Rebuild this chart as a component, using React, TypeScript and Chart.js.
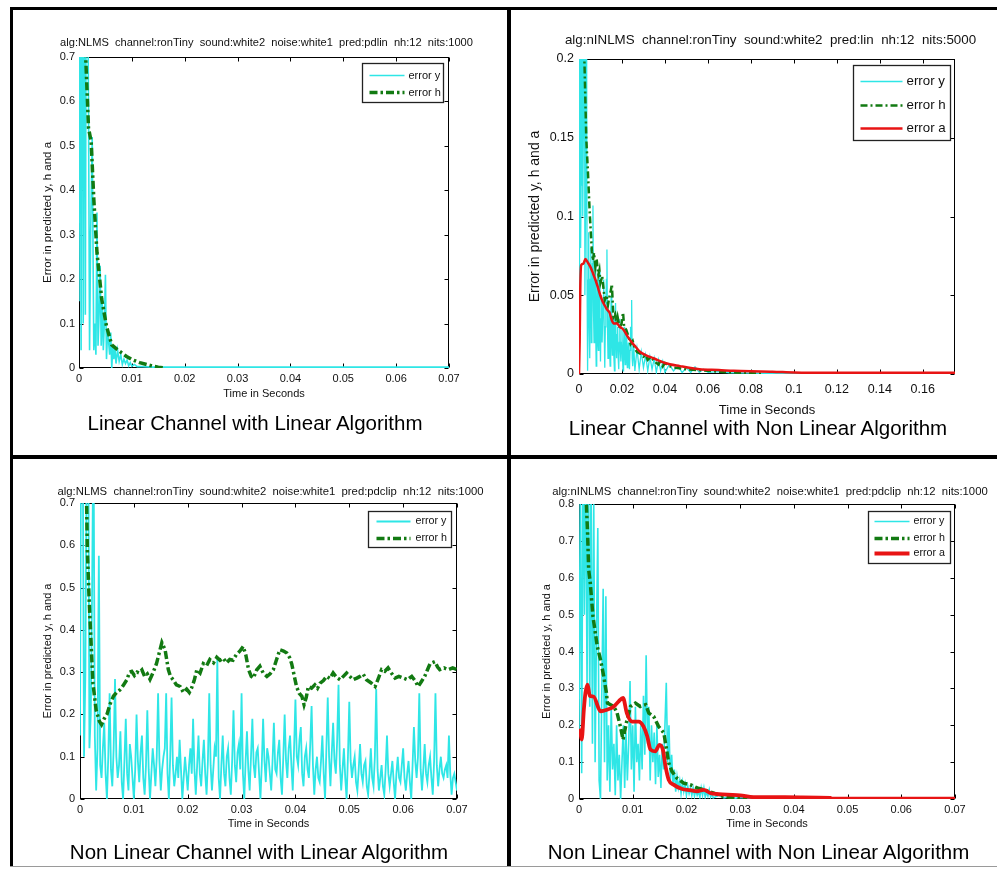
import React, { useEffect, useRef } from "react";
import { Chart, registerables } from "chart.js";

Chart.register(...registerables);
Chart.defaults.font.family = "'Liberation Sans', Arial, Helvetica, sans-serif";
Chart.defaults.color = "#111";

// ---------------- shared text ----------------
const X_LABEL = "Time in Seconds";
const Y_LABEL = "Error in predicted y, h and a";
const LABEL_Y = "error y";
const LABEL_H = "error h";
const LABEL_A = "error a";

// ---------------- Panel 1: Linear channel, linear algorithm ----------------
const p1Title = "alg:NLMS  channel:ronTiny  sound:white2  noise:white1  pred:pdlin  nh:12  nits:1000";
const p1Caption = "Linear Channel with Linear Algorithm";
const p1XTicks = [0, 0.01, 0.02, 0.03, 0.04, 0.05, 0.06, 0.07];
const p1YTicks = [0, 0.1, 0.2, 0.3, 0.4, 0.5, 0.6, 0.7];
const p1ErrYTime = [0, 0.0002, 0.0004, 0.0006, 0.0008, 0.001, 0.0012, 0.0014, 0.0016, 0.0018, 0.002, 0.0022, 0.0025, 0.0028, 0.003, 0.0032, 0.0034, 0.0036, 0.0038, 0.004, 0.0042, 0.0044, 0.0046, 0.0048, 0.005, 0.0052, 0.0054, 0.0056, 0.0058, 0.006, 0.0062, 0.0064, 0.0066, 0.0068, 0.007, 0.0073, 0.0076, 0.0079, 0.0082, 0.0085, 0.0088, 0.0091, 0.0094, 0.0097, 0.01, 0.0105, 0.011, 0.012, 0.014, 0.02, 0.07];
const p1ErrYVal = [0.15, 1.2, 0.04, 1.5, 0.1, 1.3, 0.12, 1.1, 0.9, 0.6, 0.04, 0.3, 0.52, 0.04, 0.1, 0.03, 0.35, 0.05, 0.12, 0.23, 0.05, 0.15, 0.04, 0.1, 0.21, 0.02, 0.08, 0.06, 0.03, 0.08, 0.0, 0.05, 0.02, 0.045, 0.01, 0.04, 0.015, 0.03, 0.008, 0.02, 0.01, 0.018, 0.005, 0.012, 0.004, 0.008, 0.003, 0.003, 0.002, 0.002, 0.002];
const p1ErrHTime = [0, 0.0008, 0.0012, 0.0016, 0.0018, 0.0023, 0.0028, 0.0034, 0.0043, 0.0052, 0.0062, 0.0072, 0.0081, 0.009, 0.01, 0.0115, 0.0129, 0.014, 0.015, 0.016];
const p1ErrHVal = [1.2, 0.9, 0.72, 0.6, 0.54, 0.51, 0.38, 0.26, 0.155, 0.094, 0.052, 0.042, 0.034, 0.026, 0.019, 0.012, 0.0075, 0.004, 0.002, 0.0005];

// ---------------- Panel 2: Linear channel, non linear algorithm ----------------
const p2Title = "alg:nINLMS  channel:ronTiny  sound:white2  pred:lin  nh:12  nits:5000";
const p2Caption = "Linear Channel with Non Linear Algorithm";
const p2XTicks = [0, 0.02, 0.04, 0.06, 0.08, 0.1, 0.12, 0.14, 0.16];
const p2YTicks = [0, 0.05, 0.1, 0.15, 0.2];
const p2ErrYTime = [
  0, 0.00025, 0.0005, 0.00075, 0.001, 0.00125, 0.0015, 0.00175, 0.002, 0.00225, 0.0025, 0.00275, 0.003, 0.00325, 0.0035, 0.00375, 0.004, 0.00425, 0.0045, 0.00475,
  0.005, 0.00525, 0.0055, 0.00575, 0.006, 0.00625, 0.0065, 0.00675, 0.007, 0.00725, 0.0075, 0.00775, 0.008, 0.00825, 0.0085, 0.00875, 0.009, 0.00925, 0.0095, 0.00975,
  0.01, 0.01025, 0.0105, 0.01075, 0.011, 0.01125, 0.0115, 0.01175, 0.012, 0.01225, 0.0125, 0.01275, 0.013, 0.01325, 0.0135, 0.01375, 0.014, 0.01425, 0.0145, 0.01475,
  0.015, 0.01525, 0.0155, 0.01575, 0.016, 0.01625, 0.0165, 0.01675, 0.017, 0.01725, 0.0175, 0.01775, 0.018, 0.01825, 0.0185, 0.01875, 0.019, 0.01925, 0.0195, 0.01975,
  0.02, 0.02025, 0.0205, 0.02075, 0.021, 0.02125, 0.0215, 0.02175, 0.022, 0.02225, 0.0225, 0.02275, 0.023, 0.02325, 0.0235, 0.02375, 0.024, 0.02425, 0.0245, 0.02475,
  0.025,
  0.0255, 0.026, 0.027, 0.028, 0.029, 0.03, 0.031, 0.032, 0.033, 0.034, 0.035, 0.036, 0.037, 0.038, 0.039, 0.04, 0.042, 0.044, 0.046, 0.048, 0.05, 0.052, 0.054, 0.056, 0.058, 0.06, 0.065, 0.07, 0.08, 0.09, 0.1, 0.175,
];
const p2ErrYVal = [
  0.02, 0.25, 0.3, 0.08, 0.12, 0.4, 0.35, 0.1, 0.15, 0.3, 0.3, 0.05, 0.1, 0.22, 0.25, 0.06, 0.002, 0.05, 0.09, 0.03,
  0.01, 0.06, 0.08, 0.02, 0.03, 0.07, 0.107, 0.04, 0.02, 0.055, 0.07, 0.03, 0.005, 0.04, 0.06, 0.02, 0.015, 0.05, 0.065, 0.03,
  0.008, 0.035, 0.05, 0.02, 0.02, 0.045, 0.06, 0.025, 0.004, 0.03, 0.045, 0.06, 0.079, 0.03, 0.01, 0.03, 0.04, 0.015, 0.005, 0.035,
  0.05, 0.02, 0.012, 0.03, 0.035, 0.01, 0.002, 0.025, 0.045, 0.02, 0.01, 0.025, 0.03, 0.01, 0.003, 0.02, 0.035, 0.015, 0.008, 0.02,
  0.028, 0.01, 0.002, 0.018, 0.03, 0.012, 0.006, 0.02, 0.025, 0.01, 0.004, 0.015, 0.02, 0.008, 0.003, 0.015, 0.03, 0.02, 0.047, 0.01,
  0.005,
  0.018, 0.002, 0.016, 0.003, 0.014, 0.004, 0.012, 0.002, 0.011, 0.003, 0.01, 0.001, 0.009, 0.002, 0.008, 0.001, 0.006, 0.002, 0.005, 0.001, 0.004, 0.001, 0.0045, 0.001, 0.003, 0.001, 0.0015, 0.0008, 0.0005, 0.0003, 0.0002, 0.0002,
];
const p2ErrHTime = [0.001, 0.002, 0.0025, 0.0034, 0.0042, 0.005, 0.006, 0.0065, 0.007, 0.0076, 0.0082, 0.009, 0.0095, 0.01, 0.0108, 0.0115, 0.012, 0.0128, 0.0135, 0.014, 0.0147, 0.0153, 0.016, 0.0168, 0.0175, 0.018, 0.019, 0.0198, 0.0205, 0.021, 0.022, 0.023, 0.024, 0.025, 0.026, 0.027, 0.0285, 0.03, 0.031, 0.032, 0.0335, 0.035, 0.037, 0.038, 0.039, 0.04, 0.042, 0.045, 0.05, 0.055, 0.06, 0.065, 0.07, 0.075, 0.08, 0.085];
const p2ErrHVal = [0.3, 0.23, 0.2, 0.149, 0.127, 0.102, 0.078, 0.072, 0.077, 0.068, 0.073, 0.063, 0.066, 0.058, 0.062, 0.053, 0.047, 0.05, 0.044, 0.048, 0.052, 0.057, 0.036, 0.038, 0.032, 0.036, 0.029, 0.032, 0.039, 0.03, 0.028, 0.024, 0.019, 0.021, 0.016, 0.014, 0.013, 0.011, 0.012, 0.009, 0.011, 0.008, 0.006, 0.009, 0.005, 0.007, 0.005, 0.004, 0.003, 0.0025, 0.002, 0.0015, 0.001, 0.0008, 0.0005, 0.0002];
const p2ErrATime = [0, 0.0003, 0.0006, 0.001, 0.002, 0.003, 0.004, 0.0053, 0.0065, 0.0076, 0.0088, 0.0099, 0.011, 0.0122, 0.013, 0.0142, 0.0153, 0.0165, 0.0177, 0.019, 0.0208, 0.0225, 0.0246, 0.0265, 0.0285, 0.031, 0.0347, 0.04, 0.047, 0.056, 0.065, 0.072, 0.08, 0.09, 0.1, 0.12, 0.15, 0.175];
const p2ErrAVal = [0, 0.02, 0.055, 0.069, 0.07, 0.073, 0.071, 0.068, 0.064, 0.06, 0.055, 0.05, 0.046, 0.043, 0.041, 0.039, 0.034, 0.032, 0.032, 0.03, 0.028, 0.024, 0.02, 0.017, 0.014, 0.012, 0.01, 0.007, 0.005, 0.003, 0.0025, 0.002, 0.0017, 0.0015, 0.001, 0.0008, 0.0008, 0.0008];

// ---------------- Panel 3: Non linear channel, linear algorithm ----------------
const p3Title = "alg:NLMS  channel:ronTiny  sound:white2  noise:white1  pred:pdclip  nh:12  nits:1000";
const p3Caption = "Non Linear Channel with Linear Algorithm";
const p3XTicks = [0, 0.01, 0.02, 0.03, 0.04, 0.05, 0.06, 0.07];
const p3YTicks = [0, 0.1, 0.2, 0.3, 0.4, 0.5, 0.6, 0.7];
const p3ErrYTime = [
  0, 0.00025, 0.0005, 0.00075, 0.001, 0.00125, 0.0015, 0.00175, 0.002, 0.00225, 0.0025, 0.00275, 0.003, 0.00325, 0.0035, 0.00375, 0.004, 0.00425, 0.0045, 0.00475,
  0.005, 0.00525, 0.0055, 0.00575, 0.006, 0.00625, 0.0065, 0.00675, 0.007, 0.00725, 0.0075, 0.00775, 0.008, 0.00825, 0.0085, 0.00875, 0.009, 0.00925, 0.0095, 0.00975,
  0.01, 0.01025, 0.0105, 0.01075, 0.011, 0.01125, 0.0115, 0.01175, 0.012, 0.01225, 0.0125, 0.01275, 0.013, 0.01325, 0.0135, 0.01375, 0.014, 0.01425, 0.0145, 0.01475,
  0.015, 0.01525, 0.0155, 0.01575, 0.016, 0.01625, 0.0165, 0.01675, 0.017, 0.01725, 0.0175, 0.01775, 0.018, 0.01825, 0.0185, 0.01875, 0.019, 0.01925, 0.0195, 0.01975,
  0.02, 0.02025, 0.0205, 0.02075, 0.021, 0.02125, 0.0215, 0.02175, 0.022, 0.02225, 0.0225, 0.02275, 0.023, 0.02325, 0.0235, 0.02375, 0.024, 0.02425, 0.0245, 0.02475,
  0.025, 0.02525, 0.0255, 0.02575, 0.026, 0.02625, 0.0265, 0.02675, 0.027, 0.02725, 0.0275, 0.02775, 0.028, 0.02825, 0.0285, 0.02875, 0.029, 0.02925, 0.0295, 0.02975,
  0.03, 0.03025, 0.0305, 0.03075, 0.031, 0.03125, 0.0315, 0.03175, 0.032, 0.03225, 0.0325, 0.03275, 0.033, 0.03325, 0.0335, 0.03375, 0.034, 0.03425, 0.0345, 0.03475,
  0.035, 0.03525, 0.0355, 0.03575, 0.036, 0.03625, 0.0365, 0.03675, 0.037, 0.03725, 0.0375, 0.03775, 0.038, 0.03825, 0.0385, 0.03875, 0.039, 0.03925, 0.0395, 0.03975,
  0.04, 0.04025, 0.0405, 0.04075, 0.041, 0.04125, 0.0415, 0.04175, 0.042, 0.04225, 0.0425, 0.04275, 0.043, 0.04325, 0.0435, 0.04375, 0.044, 0.04425, 0.0445, 0.04475,
  0.045, 0.04525, 0.0455, 0.04575, 0.046, 0.04625, 0.0465, 0.04675, 0.047, 0.04725, 0.0475, 0.04775, 0.048, 0.04825, 0.0485, 0.04875, 0.049, 0.04925, 0.0495, 0.04975,
  0.05, 0.05025, 0.0505, 0.05075, 0.051, 0.05125, 0.0515, 0.05175, 0.052, 0.05225, 0.0525, 0.05275, 0.053, 0.05325, 0.0535, 0.05375, 0.054, 0.05425, 0.0545, 0.05475,
  0.055, 0.05525, 0.0555, 0.05575, 0.056, 0.05625, 0.0565, 0.05675, 0.057, 0.05725, 0.0575, 0.05775, 0.058, 0.05825, 0.0585, 0.05875, 0.059, 0.05925, 0.0595, 0.05975,
  0.06, 0.06025, 0.0605, 0.06075, 0.061, 0.06125, 0.0615, 0.06175, 0.062, 0.06225, 0.0625, 0.06275, 0.063, 0.06325, 0.0635, 0.06375, 0.064, 0.06425, 0.0645, 0.06475,
  0.065, 0.06525, 0.0655, 0.06575, 0.066, 0.06625, 0.0665, 0.06675, 0.067, 0.06725, 0.0675, 0.06775, 0.068, 0.06825, 0.0685, 0.06875, 0.069, 0.06925, 0.0695, 0.06975,
  0.07,
];
const p3ErrYVal = [
  0.15, 1.1, 0.9, 0.1, 0.3, 0.85, 1.0, 0.12, 0.2, 0.5, 0.9, 0.15, 0.02, 0.12, 0.575, 0.08, 0.05, 0.12, 0.18, 0.06,
  0.0, 0.1, 0.25, 0.07, 0.03, 0.12, 0.284, 0.1, 0.05, 0.08, 0.16, 0.04, 0.0, 0.09, 0.19, 0.06, 0.02, 0.13, 0.1, 0.05,
  0.0, 0.07, 0.2, 0.09, 0.04, 0.11, 0.15, 0.05, 0.01, 0.08, 0.21, 0.07, 0.0, 0.06, 0.12, 0.08, 0.03, 0.1, 0.25, 0.09,
  0.02, 0.07, 0.1, 0.12, 0.25, 0.06, 0.0, 0.1, 0.24, 0.08, 0.03, 0.06, 0.1, 0.05, 0.14, 0.07, 0.0, 0.05, 0.1, 0.06,
  0.02, 0.08, 0.12, 0.06, 0.19, 0.07, 0.01, 0.08, 0.15, 0.06, 0.03, 0.09, 0.14, 0.06, 0.01, 0.09, 0.25, 0.08, 0.02, 0.07,
  0.12, 0.1, 0.333, 0.05, 0.0, 0.08, 0.15, 0.06, 0.03, 0.1, 0.12, 0.05, 0.01, 0.09, 0.21, 0.08, 0.04, 0.11, 0.13, 0.07,
  0.25, 0.06, 0.0, 0.09, 0.16, 0.07, 0.02, 0.1, 0.19, 0.08, 0.05, 0.11, 0.12, 0.06, 0.0, 0.08, 0.19, 0.09, 0.04, 0.12,
  0.1, 0.06, 0.02, 0.09, 0.18, 0.07, 0.06, 0.11, 0.14, 0.05, 0.01, 0.1, 0.2, 0.09, 0.05, 0.12, 0.15, 0.08, 0.02, 0.12,
  0.235, 0.1, 0.08, 0.14, 0.17, 0.06, 0.03, 0.1, 0.12, 0.07, 0.05, 0.13, 0.22, 0.08, 0.01, 0.07, 0.1, 0.05, 0.04, 0.09,
  0.15, 0.06, 0.0, 0.12, 0.24, 0.1, 0.03, 0.11, 0.18, 0.09, 0.06, 0.14, 0.27, 0.08, 0.02, 0.07, 0.12, 0.05, 0.0, 0.1,
  0.23, 0.09, 0.05, 0.08, 0.1, 0.04, 0.02, 0.07, 0.13, 0.06, 0.04, 0.08, 0.09, 0.03, 0.01, 0.06, 0.12, 0.05, 0.03, 0.1,
  0.26, 0.07, 0.02, 0.05, 0.08, 0.03, 0.01, 0.07, 0.15, 0.06, 0.03, 0.06, 0.09, 0.04, 0.0, 0.06, 0.1, 0.05, 0.04, 0.08,
  0.12, 0.05, 0.02, 0.06, 0.09, 0.04, 0.0, 0.08, 0.17, 0.09, 0.05, 0.1, 0.25, 0.07, 0.02, 0.07, 0.13, 0.06, 0.04, 0.08,
  0.1, 0.05, 0.01, 0.09, 0.25, 0.08, 0.03, 0.07, 0.1, 0.06, 0.05, 0.07, 0.08, 0.05, 0.15, 0.06, 0.01, 0.05, 0.06, 0.04,
  0.02,
];
const p3ErrHTime = [
  0, 0.0008, 0.0012, 0.00136, 0.0017, 0.002, 0.0024, 0.003, 0.0036, 0.004,
  0.0045, 0.005, 0.0056, 0.0062, 0.0068, 0.0074, 0.008, 0.0087, 0.0092, 0.0096,
  0.0101, 0.0106, 0.011, 0.0115, 0.012, 0.0125, 0.013, 0.0136, 0.0142, 0.0147,
  0.0152, 0.0158, 0.0164, 0.0168, 0.0173, 0.0179, 0.0186, 0.0192, 0.0198, 0.0203,
  0.0207, 0.0212, 0.0217, 0.0223, 0.0229, 0.0235, 0.0241, 0.0248, 0.0254, 0.026,
  0.0266, 0.0272, 0.0278, 0.0284, 0.029, 0.0297, 0.0303, 0.0308, 0.0313, 0.0318,
  0.0322, 0.0328, 0.0334, 0.034, 0.0347, 0.0353, 0.0359, 0.0365, 0.0371, 0.0378,
  0.0384, 0.0389, 0.0393, 0.0398, 0.0402, 0.0407, 0.0412, 0.0416, 0.042, 0.0424,
  0.043, 0.0436, 0.0441, 0.0446, 0.0452, 0.0458, 0.0464, 0.047, 0.0476, 0.0483,
  0.0489, 0.0495, 0.0501, 0.0507, 0.0514, 0.052, 0.0526, 0.0532, 0.054, 0.0548,
  0.0554, 0.056, 0.0566, 0.0572, 0.0578, 0.0585, 0.0592, 0.06, 0.0608, 0.0616,
  0.0622, 0.0628, 0.0634, 0.064, 0.0645, 0.065, 0.0659, 0.0664, 0.0668, 0.0676,
  0.0684, 0.0692, 0.07,
];
const p3ErrHVal = [
  1.2, 0.95, 0.72, 0.59, 0.47, 0.385, 0.274, 0.21, 0.184, 0.176,
  0.19, 0.2, 0.225, 0.243, 0.252, 0.258, 0.268, 0.282, 0.3, 0.302,
  0.292, 0.3, 0.298, 0.305, 0.29, 0.296, 0.283, 0.3, 0.32, 0.345,
  0.37, 0.353, 0.306, 0.29, 0.282, 0.27, 0.266, 0.252, 0.26, 0.252,
  0.262, 0.28, 0.306, 0.298, 0.32, 0.315, 0.33, 0.322, 0.335, 0.328,
  0.333, 0.322, 0.33, 0.328, 0.341, 0.35, 0.361, 0.34, 0.306, 0.29,
  0.286, 0.305, 0.314, 0.298, 0.29, 0.296, 0.306, 0.33, 0.353, 0.35,
  0.345, 0.335, 0.32, 0.29, 0.266, 0.25, 0.243, 0.223, 0.24, 0.266,
  0.262, 0.27, 0.262, 0.274, 0.28, 0.29, 0.285, 0.298, 0.288, 0.282,
  0.29, 0.298, 0.29, 0.282, 0.286, 0.29, 0.295, 0.282, 0.275, 0.266,
  0.285, 0.306, 0.302, 0.31, 0.298, 0.286, 0.29, 0.286, 0.282, 0.29,
  0.28, 0.266, 0.278, 0.29, 0.305, 0.32, 0.325, 0.312, 0.306, 0.31,
  0.306, 0.31, 0.306,
];

// ---------------- Panel 4: Non linear channel, non linear algorithm ----------------
const p4Title = "alg:nINLMS  channel:ronTiny  sound:white2  noise:white1  pred:pdclip  nh:12  nits:1000";
const p4Caption = "Non Linear Channel with Non Linear Algorithm";
const p4XTicks = [0, 0.01, 0.02, 0.03, 0.04, 0.05, 0.06, 0.07];
const p4YTicks = [0, 0.1, 0.2, 0.3, 0.4, 0.5, 0.6, 0.7, 0.8];
const p4ErrYTime = [0, 0.00025, 0.0005, 0.00075, 0.001, 0.00125, 0.0015, 0.00175, 0.002, 0.00225, 0.0025, 0.00275, 0.003, 0.00325, 0.0035, 0.00375, 0.004, 0.00425, 0.0045, 0.00475, 0.005, 0.00525, 0.0055, 0.00575, 0.006, 0.00625, 0.0065, 0.00675, 0.007, 0.00725, 0.0075, 0.00775, 0.008, 0.00825, 0.0085, 0.00875, 0.009, 0.00925, 0.0095, 0.00975, 0.01, 0.01025, 0.0105, 0.01075, 0.011, 0.01125, 0.0115, 0.01175, 0.012, 0.01225, 0.0125, 0.01275, 0.013, 0.01325, 0.0135, 0.01375, 0.014, 0.01425, 0.0145, 0.01475, 0.015, 0.01525, 0.0155, 0.01575, 0.016, 0.01625, 0.0165, 0.01675, 0.017, 0.01725, 0.0175, 0.01775, 0.018, 0.01825, 0.0185, 0.01875, 0.019, 0.01925, 0.0195, 0.01975, 0.02, 0.02025, 0.0205, 0.02075, 0.021, 0.02125, 0.0215, 0.02175, 0.022, 0.02225, 0.0225, 0.02275, 0.023, 0.02325, 0.0235, 0.02375, 0.024, 0.02425, 0.0245, 0.02475, 0.025, 0.026, 0.027, 0.028, 0.029, 0.03, 0.032, 0.034, 0.04, 0.07];
const p4ErrYVal = [0.17, 0.9, 0.07, 1.0, 0.5, 0.95, 0.3, 1.0, 0.25, 0.9, 0.15, 0.8, 0.1, 0.45, 0.735, 0.05, 0.0, 0.3, 0.57, 0.1, 0.55, 0.05, 0.2, 0.02, 0.25, 0.08, 0.15, 0.01, 0.2, 0.05, 0.12, 0.0, 0.1, 0.2, 0.03, 0.18, 0.05, 0.15, 0.32, 0.08, 0.2, 0.02, 0.25, 0.1, 0.15, 0.05, 0.2, 0.08, 0.28, 0.12, 0.39, 0.15, 0.25, 0.05, 0.2, 0.1, 0.18, 0.04, 0.2, 0.06, 0.12, 0.03, 0.15, 0.08, 0.2, 0.315, 0.1, 0.2, 0.05, 0.12, 0.04, 0.08, 0.02, 0.06, 0.03, 0.05, 0.015, 0.045, 0.02, 0.04, 0.01, 0.035, 0.015, 0.03, 0.01, 0.03, 0.008, 0.025, 0.01, 0.02, 0.005, 0.03, 0.01, 0.03, 0.005, 0.02, 0.008, 0.025, 0.005, 0.015, 0.003, 0.01, 0.003, 0.006, 0.002, 0.004, 0.002, 0.001, 0.0005, 0.0005];
const p4ErrHTime = [0, 0.001, 0.00137, 0.0016, 0.0018, 0.0021, 0.0026, 0.0034, 0.004, 0.0046, 0.0051, 0.0053, 0.0065, 0.0071, 0.0077, 0.0082, 0.0088, 0.0096, 0.0105, 0.0114, 0.0124, 0.013, 0.0139, 0.0148, 0.0158, 0.0163, 0.0167, 0.0173, 0.0182, 0.0195, 0.0207, 0.022, 0.0232, 0.0251, 0.0269, 0.0288, 0.0313];
const p4ErrHVal = [1.2, 0.95, 0.8, 0.72, 0.622, 0.586, 0.495, 0.414, 0.378, 0.333, 0.288, 0.26, 0.251, 0.233, 0.197, 0.161, 0.206, 0.251, 0.26, 0.251, 0.256, 0.233, 0.224, 0.197, 0.179, 0.134, 0.098, 0.075, 0.057, 0.043, 0.039, 0.03, 0.025, 0.016, 0.007, 0.003, 0.0];
const p4ErrATime = [0, 0.00025, 0.0005, 0.0009, 0.0012, 0.0016, 0.002, 0.0027, 0.004, 0.0052, 0.0065, 0.0074, 0.0082, 0.0089, 0.0099, 0.0111, 0.012, 0.0127, 0.0133, 0.0142, 0.015, 0.0156, 0.0161, 0.0167, 0.0176, 0.0192, 0.0207, 0.022, 0.0232, 0.0245, 0.0276, 0.03, 0.0325, 0.035, 0.0412, 0.0468, 0.047, 0.07];
const p4ErrAVal = [0.19, 0.179, 0.161, 0.242, 0.288, 0.31, 0.28, 0.278, 0.238, 0.242, 0.251, 0.265, 0.274, 0.233, 0.21, 0.21, 0.197, 0.17, 0.134, 0.129, 0.147, 0.134, 0.089, 0.052, 0.039, 0.027, 0.024, 0.021, 0.025, 0.016, 0.012, 0.01, 0.005, 0.005, 0.0045, 0.003, 0.001, 0.001];

// ---------------- styling ----------------
const CYAN = "#2ee6e6";
const GREEN = "#127a12";
const RED = "#e81414";

type Series = { label: string; time: number[]; values: number[]; color: string; width: number; dash: number[]; smooth?: boolean };
type LegendDef = { right: number; top: number; width: number; height: number; s0: number; s1: number; textX: number; rows: number[]; font: number };
type PanelDef = {
  left: number; top: number; width: number; height: number;
  title: string; titleSize: number; titlePadTop: number; titlePadBottom: number;
  yAxisW: number; y2W: number; xAxisH: number;
  xMax: number; yMax: number; xTicks: number[]; yTicks: number[];
  tickSize: number; xTickPad: number; yTickPad: number;
  xTitleSize: number; xTitlePad: number; yTitleSize: number; yTitlePad: number;
  series: Series[]; legend: LegendDef;
};

const PANELS: PanelDef[] = [
  {
    left: 13, top: 10, width: 507, height: 445,
    title: p1Title, titleSize: 11.1, titlePadTop: 26.3, titlePadBottom: 7.38,
    yAxisW: 66, y2W: 71, xAxisH: 87,
    xMax: 0.07, yMax: 0.7, xTicks: p1XTicks, yTicks: p1YTicks,
    tickSize: 11, xTickPad: 4, yTickPad: 4,
    xTitleSize: 11, xTitlePad: 54.4, yTitleSize: 11.5, yTitlePad: 28.1,
    series: [
      { label: LABEL_Y, time: p1ErrYTime, values: p1ErrYVal, color: CYAN, width: 1.6, dash: [] },
      { label: LABEL_H, time: p1ErrHTime, values: p1ErrHVal, color: GREEN, width: 3.5, dash: [8, 3, 2.5, 3] },
    ],
    legend: { right: 6, top: 6, width: 81, height: 39, s0: 7, s1: 42, textX: 46, rows: [12, 29], font: 11 },
  },
  {
    left: 511, top: 10, width: 519, height: 445,
    title: p2Title, titleSize: 13.35, titlePadTop: 22, titlePadBottom: 10.98,
    yAxisW: 68, y2W: 75, xAxisH: 81,
    xMax: 0.175, yMax: 0.2, xTicks: p2XTicks, yTicks: p2YTicks,
    tickSize: 12.5, xTickPad: 8.5, yTickPad: 5,
    xTitleSize: 13, xTitlePad: 37.2, yTitleSize: 14, yTitlePad: 15.6,
    series: [
      { label: LABEL_Y, time: p2ErrYTime, values: p2ErrYVal, color: CYAN, width: 1.3, dash: [] },
      { label: LABEL_H, time: p2ErrHTime, values: p2ErrHVal, color: GREEN, width: 2.5, dash: [7, 3, 2, 3] },
      { label: LABEL_A, time: p2ErrATime, values: p2ErrAVal, color: RED, width: 2.5, dash: [], smooth: true },
    ],
    legend: { right: 5, top: 6, width: 97, height: 75, s0: 7, s1: 49, textX: 53, rows: [16, 40, 63], font: 13.3 },
  },
  {
    left: 13, top: 459, width: 515, height: 407,
    title: p3Title, titleSize: 11.3, titlePadTop: 25.9, titlePadBottom: 4.54,
    yAxisW: 67, y2W: 71, xAxisH: 67,
    xMax: 0.07, yMax: 0.7, xTicks: p3XTicks, yTicks: p3YTicks,
    tickSize: 11, xTickPad: 4.4, yTickPad: 5,
    xTitleSize: 11, xTitlePad: 35.4, yTitleSize: 11, yTitlePad: 28.4,
    series: [
      { label: LABEL_Y, time: p3ErrYTime, values: p3ErrYVal, color: CYAN, width: 1.8, dash: [] },
      { label: LABEL_H, time: p3ErrHTime, values: p3ErrHVal, color: GREEN, width: 3.5, dash: [8, 3, 2.5, 3] },
    ],
    legend: { right: 6, top: 8, width: 83, height: 36, s0: 8, s1: 42, textX: 47, rows: [10, 27], font: 10.7 },
  },
  {
    left: 511, top: 459, width: 518, height: 407,
    title: p4Title, titleSize: 11.3, titlePadTop: 25.9, titlePadBottom: 5.54,
    yAxisW: 68, y2W: 74, xAxisH: 67,
    xMax: 0.07, yMax: 0.8, xTicks: p4XTicks, yTicks: p4YTicks,
    tickSize: 11, xTickPad: 4.4, yTickPad: 5,
    xTitleSize: 11, xTitlePad: 35.4, yTitleSize: 11, yTitlePad: 29.4,
    series: [
      { label: LABEL_Y, time: p4ErrYTime, values: p4ErrYVal, color: CYAN, width: 1.6, dash: [] },
      { label: LABEL_H, time: p4ErrHTime, values: p4ErrHVal, color: GREEN, width: 3.5, dash: [8, 3, 2.5, 3] },
      { label: LABEL_A, time: p4ErrATime, values: p4ErrAVal, color: RED, width: 3.8, dash: [], smooth: true },
    ],
    legend: { right: 5, top: 7, width: 82, height: 52, s0: 6, s1: 41, textX: 45, rows: [10, 27, 42], font: 10.7 },
  },
];

const CAPTIONS = [
  { text: p1Caption, cx: 255, cy: 422.5 },
  { text: p2Caption, cx: 758, cy: 428 },
  { text: p3Caption, cx: 259, cy: 852 },
  { text: p4Caption, cx: 758.5, cy: 852 },
];

const FONT = "'Liberation Sans', Arial, Helvetica, sans-serif";

// Box, inward ticks (drawn below the data) and MATLAB-like legend (drawn above)
const matlabPlugin = {
  id: "matlabBox",
  beforeDatasetsDraw(chart: any) {
    const { ctx, chartArea: a, scales } = chart;
    const tl = 4;
    ctx.save();
    ctx.strokeStyle = "#000";
    ctx.lineWidth = 1;
    const L = Math.round(a.left) + 0.5, R = Math.round(a.right) - 0.5;
    const T = Math.round(a.top) + 0.5, B = Math.round(a.bottom) - 0.5;
    ctx.strokeRect(L, T, R - L, B - T);
    ctx.beginPath();
    for (const t of scales.x.ticks) {
      const px = Math.round(scales.x.getPixelForValue(t.value)) + 0.5;
      ctx.moveTo(px, B); ctx.lineTo(px, B - tl);
      ctx.moveTo(px, T); ctx.lineTo(px, T + tl);
    }
    for (const t of scales.y.ticks) {
      const py = Math.round(scales.y.getPixelForValue(t.value)) + 0.5;
      ctx.moveTo(L, py); ctx.lineTo(L + tl, py);
      ctx.moveTo(R, py); ctx.lineTo(R - tl, py);
    }
    ctx.stroke();
    ctx.restore();
  },
  afterDatasetsDraw(chart: any, _args: any, opts: any) {
    const lg: LegendDef = opts.legend;
    if (!lg) return;
    const { ctx, chartArea: a } = chart;
    const x0 = Math.round(a.right - lg.right - lg.width) + 0.5;
    const y0 = Math.round(a.top + lg.top) + 0.5;
    ctx.save();
    ctx.fillStyle = "#fff";
    ctx.fillRect(x0, y0, lg.width, lg.height);
    ctx.strokeStyle = "#222";
    ctx.lineWidth = 1.3;
    ctx.strokeRect(x0, y0, lg.width, lg.height);
    chart.data.datasets.forEach((ds: any, i: number) => {
      const ry = y0 + lg.rows[i];
      ctx.save();
      ctx.strokeStyle = ds.borderColor;
      ctx.lineWidth = ds.borderWidth;
      ctx.setLineDash(ds.borderDash || []);
      ctx.beginPath();
      ctx.moveTo(x0 + lg.s0, ry);
      ctx.lineTo(x0 + lg.s1, ry);
      ctx.stroke();
      ctx.restore();
      ctx.fillStyle = "#111";
      ctx.font = `${lg.font}px ${FONT}`;
      ctx.textBaseline = "middle";
      ctx.textAlign = "left";
      ctx.fillText(ds.label, x0 + lg.textX, ry);
    });
    ctx.restore();
  },
};

function toPoints(time: number[], values: number[]) {
  const n = Math.min(time.length, values.length);
  const pts: { x: number; y: number }[] = [];
  for (let i = 0; i < n; i++) pts.push({ x: time[i], y: values[i] });
  return pts;
}

function buildConfig(p: PanelDef): any {
  const n = p.series.length;
  return {
    type: "line",
    data: {
      datasets: p.series.map((s, i) => ({
        label: s.label,
        data: toPoints(s.time, s.values),
        borderColor: s.color,
        backgroundColor: s.color,
        borderWidth: s.width,
        borderDash: s.dash,
        pointRadius: 0,
        tension: 0,
        cubicInterpolationMode: s.smooth ? "monotone" : "default",
        fill: false,
        order: n - i,
      })),
    },
    options: {
      responsive: false,
      maintainAspectRatio: false,
      animation: false,
      devicePixelRatio: 1,
      events: [],
      layout: { padding: 0 },
      plugins: {
        legend: { display: false },
        tooltip: { enabled: false },
        title: {
          display: true,
          text: p.title,
          color: "#111",
          font: { size: p.titleSize, weight: "normal", family: FONT },
          padding: { top: p.titlePadTop, bottom: p.titlePadBottom },
        },
        matlabBox: { legend: p.legend },
      },
      scales: {
        x: {
          type: "linear",
          position: "bottom",
          min: 0,
          max: p.xMax,
          afterBuildTicks: (scale: any) => { scale.ticks = p.xTicks.map((v) => ({ value: v })); },
          afterFit: (scale: any) => { scale.height = p.xAxisH; },
          grid: { display: false, drawTicks: false },
          border: { display: false },
          ticks: {
            autoSkip: false, maxRotation: 0, padding: p.xTickPad, color: "#111",
            font: { size: p.tickSize, family: FONT },
            callback: (v: number) => String(v),
          },
          title: {
            display: true, text: X_LABEL, color: "#111",
            font: { size: p.xTitleSize, family: FONT },
            padding: { top: 0, bottom: p.xTitlePad },
          },
        },
        y: {
          type: "linear",
          position: "left",
          min: 0,
          max: p.yMax,
          afterBuildTicks: (scale: any) => { scale.ticks = p.yTicks.map((v) => ({ value: v })); },
          afterFit: (scale: any) => { scale.width = p.yAxisW; },
          grid: { display: false, drawTicks: false },
          border: { display: false },
          ticks: {
            autoSkip: false, padding: p.yTickPad, color: "#111",
            font: { size: p.tickSize, family: FONT },
            callback: (v: number) => String(v),
          },
          title: {
            display: true, text: Y_LABEL, color: "#111",
            font: { size: p.yTitleSize, family: FONT },
            padding: { top: p.yTitlePad, bottom: 0 },
          },
        },
        y2: {
          type: "linear",
          position: "right",
          display: true,
          afterFit: (scale: any) => { scale.width = p.y2W; },
          grid: { display: false, drawTicks: false },
          border: { display: false },
          ticks: { display: false },
        },
      },
    },
    plugins: [matlabPlugin],
  };
}

function Panel({ def }: { def: PanelDef }) {
  const ref = useRef<HTMLCanvasElement | null>(null);
  useEffect(() => {
    if (!ref.current) return;
    const chart = new Chart(ref.current, buildConfig(def));
    return () => chart.destroy();
  }, [def]);
  return (
    <canvas
      ref={ref}
      width={def.width}
      height={def.height}
      style={{ position: "absolute", left: def.left, top: def.top, width: def.width, height: def.height }}
    />
  );
}

const BORDERS = [
  { left: 10, top: 7, width: 987, height: 3, color: "#000" },
  { left: 10, top: 7, width: 3, height: 860, color: "#000" },
  { left: 507, top: 7, width: 4, height: 860, color: "#000" },
  { left: 10, top: 455, width: 987, height: 4, color: "#000" },
  { left: 10, top: 866, width: 987, height: 1, color: "#9a9a9a" },
];

export default function App() {
  return (
    <div style={{ position: "fixed", left: 0, top: 0, width: 997, height: 869, background: "#fff", overflow: "hidden" }}>
      {PANELS.map((p, i) => <Panel key={i} def={p} />)}
      {CAPTIONS.map((c, i) => (
        <div
          key={"c" + i}
          style={{
            position: "absolute", left: c.cx - 250, top: c.cy - 12, width: 500, height: 24,
            lineHeight: "24px", textAlign: "center", fontFamily: FONT, fontSize: 20.5,
            color: "#000", whiteSpace: "nowrap",
          }}
        >
          {c.text}
        </div>
      ))}
      {BORDERS.map((b, i) => (
        <div key={"b" + i} style={{ position: "absolute", left: b.left, top: b.top, width: b.width, height: b.height, background: b.color }} />
      ))}
    </div>
  );
}
